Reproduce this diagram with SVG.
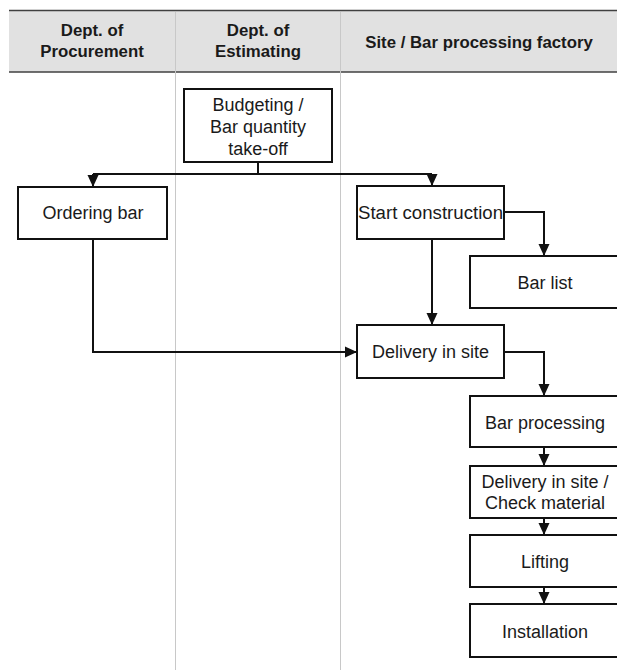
<svg xmlns="http://www.w3.org/2000/svg" width="617" height="670" viewBox="0 0 617 670">
<style>
.hdr{fill:#e1e1e1}
.hl{stroke:#404040;stroke-width:1.5;fill:none}
.div{stroke:#c8c8c8;stroke-width:1;fill:none}
.ht{font-family:"Liberation Sans",Arial,sans-serif;font-weight:bold;font-size:16.8px;fill:#1a1a1a;text-anchor:middle}
.box{fill:#fff;stroke:#111;stroke-width:2}
.t{font-family:"Liberation Sans",Arial,sans-serif;font-size:18px;fill:#1a1a1a;text-anchor:middle}
.c{stroke:#111;stroke-width:2;fill:none}
</style>
<defs>
<marker id="ah" markerUnits="userSpaceOnUse" markerWidth="12" markerHeight="12" viewBox="0 0 12 12" refX="12" refY="6" orient="auto">
<path d="M0,0.5 L12,6 L0,11.5 Z" fill="#111"/>
</marker>
</defs>
<g id="header">
<rect class="hdr" x="9" y="10" width="608" height="62"/>
<line class="hl" x1="9" y1="10.5" x2="617" y2="10.5"/>
<line class="hl" x1="9" y1="72" x2="617" y2="72"/>
<text class="ht" x="92" y="36">Dept. of</text>
<text class="ht" x="92" y="57">Procurement</text>
<text class="ht" x="258" y="36">Dept. of</text>
<text class="ht" x="258" y="57">Estimating</text>
<text class="ht" x="479" y="48">Site / Bar processing factory</text>
</g>
<g id="dividers">
<line class="div" x1="175.5" y1="12" x2="175.5" y2="670"/>
<line class="div" x1="340.5" y1="12" x2="340.5" y2="670"/>
</g>
<g id="connectors">
<path class="c" d="M258,162 V174"/>
<path class="c" d="M93,174 H432"/>
<path class="c" d="M93,174 V187" marker-end="url(#ah)"/>
<path class="c" d="M432,174 V186" marker-end="url(#ah)"/>
<path class="c" d="M93,239 V352 H357" marker-end="url(#ah)"/>
<path class="c" d="M432,239 V325" marker-end="url(#ah)"/>
<path class="c" d="M504,212 H544 V256" marker-end="url(#ah)"/>
<path class="c" d="M504,352 H544 V396" marker-end="url(#ah)"/>
<path class="c" d="M544,447 V466" marker-end="url(#ah)"/>
<path class="c" d="M544,518 V535" marker-end="url(#ah)"/>
<path class="c" d="M544,587 V604" marker-end="url(#ah)"/>
</g>
<g id="budgeting">
<rect class="box" x="184" y="89" width="148" height="73"/>
<text class="t" x="258" y="111">Budgeting /</text>
<text class="t" x="258" y="133">Bar quantity</text>
<text class="t" x="258" y="155">take-off</text>
</g>
<g id="ordering">
<rect class="box" x="18" y="187" width="149" height="52"/>
<text class="t" x="93" y="219">Ordering bar</text>
</g>
<g id="start">
<rect class="box" x="357" y="186" width="147" height="53"/>
<text class="t" x="430.5" y="219" textLength="145" lengthAdjust="spacingAndGlyphs">Start construction</text>
</g>
<g id="barlist">
<rect class="box" x="470" y="256" width="150" height="52"/>
<text class="t" x="545" y="289">Bar list</text>
</g>
<g id="delivery1">
<rect class="box" x="357" y="325" width="147" height="53"/>
<text class="t" x="430.5" y="358">Delivery in site</text>
</g>
<g id="processing">
<rect class="box" x="470" y="396" width="150" height="51"/>
<text class="t" x="545" y="429">Bar processing</text>
</g>
<g id="delivery2">
<rect class="box" x="470" y="466" width="150" height="52"/>
<text class="t" x="545" y="488">Delivery in site /</text>
<text class="t" x="545" y="509">Check material</text>
</g>
<g id="lifting">
<rect class="box" x="470" y="535" width="150" height="52"/>
<text class="t" x="545" y="568">Lifting</text>
</g>
<g id="installation">
<rect class="box" x="470" y="604" width="150" height="53"/>
<text class="t" x="545" y="638">Installation</text>
</g>
</svg>
